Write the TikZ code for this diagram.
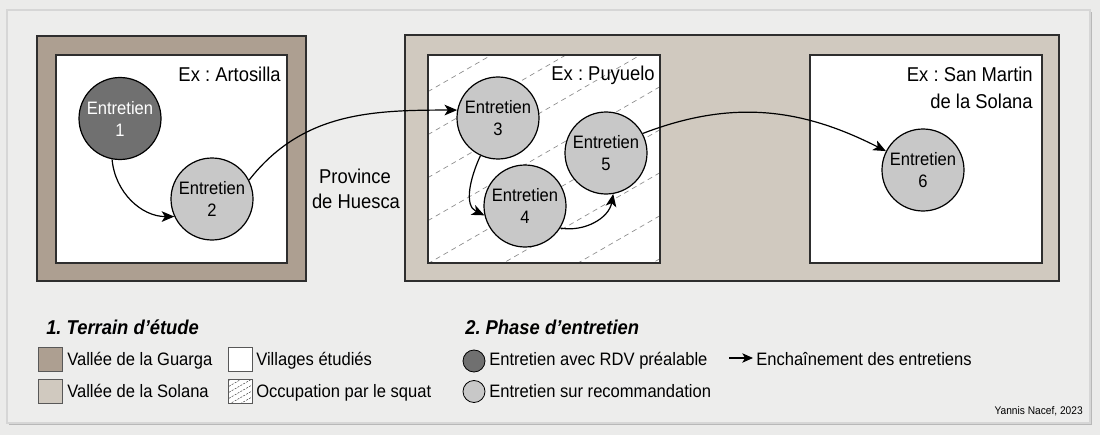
\documentclass[tikz,border=0pt]{standalone}
\usepackage{fontspec}
\setmainfont{Liberation Sans}[FakeStretch=0.92]
\frenchspacing
\usetikzlibrary{arrows.meta}
\definecolor{bgc}{HTML}{EBEBEA}
\definecolor{panelc}{HTML}{EDEDEC}
\definecolor{panelborder}{HTML}{D6D6D6}
\definecolor{shadowc}{HTML}{B8B8B8}
\definecolor{guarga}{HTML}{AD9F91}
\definecolor{solana}{HTML}{D0C9BF}
\definecolor{darknode}{HTML}{707070}
\definecolor{lightnode}{HTML}{C8C8C8}
\definecolor{edgec}{HTML}{2E2E2E}
\definecolor{hatchc}{HTML}{8C8C8C}
\tikzset{
  boxline/.style={draw=edgec, line width=1.1pt},
  entretien/.style={circle, draw=black, line width=0.9pt, minimum size=61.5pt, inner sep=0pt,
    align=center, font=\fontsize{13.5}{16.5}\selectfont},
  conn/.style={-{Stealth[length=9.5pt,width=8pt,inset=2.5pt]}, line width=0.9pt, black},
  lbl/.style={inner sep=0pt, font=\fontsize{15}{19}\selectfont},
  leg/.style={inner sep=0pt, font=\fontsize{13.5}{16}\selectfont},
  legtitle/.style={inner sep=0pt, font=\fontsize{15}{18}\selectfont\bfseries\itshape},
  credit/.style={inner sep=0pt, font=\fontsize{8.3}{10}\selectfont},
  swatch/.style={draw=edgec!80, line width=0.6pt},
  hatchline/.style={draw=hatchc, line width=0.5pt, dash pattern=on 3.8pt off 3pt},
  legdot/.style={circle, draw=black, line width=0.6pt, minimum size=16.5pt, inner sep=0pt}
}
\begin{document}
\begin{tikzpicture}[x=0.75pt,y=0.75pt]
\useasboundingbox (0,0) rectangle (1100,-435);
\fill[bgc] (0,0) rectangle (1100,-435);
% panel
\fill[shadowc] (9,-12) rectangle (1092,-425);
\filldraw[fill=panelc, draw=panelborder, line width=1pt] (7,-10) rectangle (1090,-423);

% valleys
\draw[boxline, fill=guarga] (37,-36) rectangle (306,-281);
\draw[boxline, fill=white] (56,-55) rectangle (287,-263);
\draw[boxline, fill=solana] (405,-35) rectangle (1059,-281);
\fill[white] (428,-55) rectangle (660,-263);
\begin{scope}
  \clip (428,-55) rectangle (660,-263);
  \foreach \k in {-3,...,8} {
    \draw[hatchline] (420,{-102-43*\k+0.577*10}) -- ++(260,150.1);
  }
\end{scope}
\draw[boxline] (428,-55) rectangle (660,-263);
\draw[boxline, fill=white] (810,-55) rectangle (1042,-263);

% labels
\node[lbl, anchor=base east] (lA) at (281,-81.5) {Ex : Artosilla};
\node[lbl, anchor=base east] (lP) at (655,-81) {Ex : Puyuelo};
\node[lbl, anchor=base east] (lS1) at (1033,-82) {Ex : San Martin};
\node[lbl, anchor=base east] (lS2) at (1033,-108.5) {de la Solana};
\node[lbl, anchor=base] (pH1) at (355,-183) {Province};
\node[lbl, anchor=base] (pH2) at (356,-208) {de Huesca};

% interviews
\node[entretien, fill=darknode, text=white] (n1) at (120,-118.5) {Entretien\\1};
\node[entretien, fill=lightnode] (n2) at (212,-199) {Entretien\\2};
\node[entretien, fill=lightnode] (n3) at (498,-118) {Entretien\\3};
\node[entretien, fill=lightnode] (n4) at (525,-206) {Entretien\\4};
\node[entretien, fill=lightnode] (n5) at (606,-153) {Entretien\\5};
\node[entretien, fill=lightnode] (n6) at (923,-170) {Entretien\\6};

\draw[conn] (n1.259) to[out=-85,in=180] (n2.205);
\draw[conn] (n2.27) to[out=52,in=180] (n3.169);
\draw[conn] (n3.245) to[out=-115,in=155] (n4.193);
\draw[conn] (n4.328) to[out=-10,in=-100] (n5.280);
\draw[conn] (n5.28) to[out=21,in=153] (n6.153);

% legend 1
\node[legtitle, anchor=base west] (t1) at (46,-334) {1. Terrain d'étude};
\draw[swatch, fill=guarga] (38,-347) rectangle (62,-371);
\draw[swatch, fill=solana] (38,-379) rectangle (62,-403);
\draw[swatch, fill=white] (228,-347) rectangle (252,-371);
\fill[white] (228,-379) rectangle (252,-403);
\begin{scope}
  \clip (228,-379) rectangle (252,-403);
  \foreach \k in {0,...,8} {
    \draw[draw=black!70, line width=0.4pt, dash pattern=on 1.5pt off 1pt] (226,{-382-6*\k}) -- ++(30,17.3);
  }
\end{scope}
\draw[swatch] (228,-379) rectangle (252,-403);
\node[leg, anchor=base west] (g1) at (67,-365) {Vallée de la Guarga};
\node[leg, anchor=base west] (g2) at (67,-397) {Vallée de la Solana};
\node[leg, anchor=base west] (g3) at (256,-365) {Villages étudiés};
\node[leg, anchor=base west] (g4) at (256,-397) {Occupation par le squat};

% legend 2
\node[legtitle, anchor=base west] (t2) at (465,-334) {2. Phase d'entretien};
\node[legdot, fill=darknode] (d1) at (474,-361) {};
\node[legdot, fill=lightnode] (d2) at (474,-391.5) {};
\node[leg, anchor=base west] (e1) at (489,-365) {Entretien avec RDV préalable};
\node[leg, anchor=base west] (e2) at (489,-397) {Entretien sur recommandation};
\coordinate (a1) at (729,-358);
\coordinate (a2) at (753,-358);
\draw[conn, -{Stealth[length=8pt,width=7pt,inset=2pt]}] (a1) -- (a2);
\node[leg, anchor=base west] (e3) at (756,-365) {Enchaînement des entretiens};

\node[credit, anchor=base east] (cr) at (1083,-414) {Yannis Nacef, 2023};
\end{tikzpicture}
\end{document}
